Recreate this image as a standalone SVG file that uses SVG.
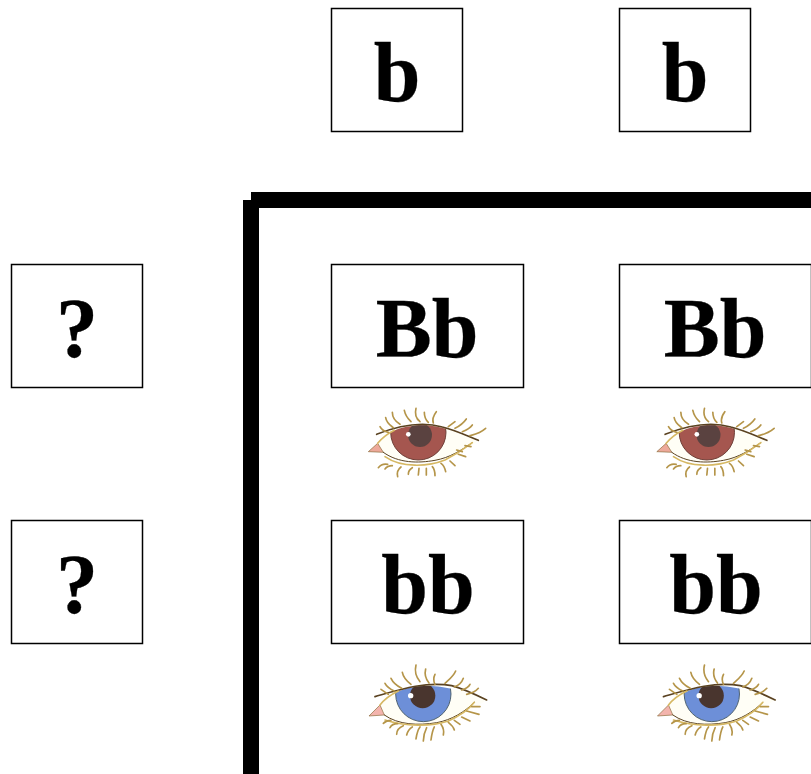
<svg xmlns="http://www.w3.org/2000/svg" width="811" height="774" viewBox="0 0 811 774">
  <style>
    .box { fill: #fff; stroke: #000; stroke-width: 1.5; }
    .label { font-family: "Liberation Serif", "Times New Roman", serif; font-weight: bold; font-size: 84px; text-anchor: middle; fill: #000; stroke: #000; stroke-width: .3; }
    .rule { fill: none; stroke: #000; stroke-width: 16; }
    .lash { fill: none; stroke: #b5954a; stroke-width: 5; stroke-linecap: round; }
    .lid { fill: none; stroke: #5a4220; stroke-width: 5; stroke-linecap: round; }
    .lidpale { fill: none; stroke: #d6b863; stroke-width: 5; stroke-linecap: round; }
  </style>
  <defs>
    <filter id="soft" x="-5%" y="-5%" width="110%" height="110%"><feGaussianBlur stdDeviation="1.2"/></filter>
    <clipPath id="brown-opening"><path d="M40 170 C60 150 85 125 110 110 C150 90 210 86 250 96 C290 104 330 118 370 138 C320 170 280 195 200 200 C150 202 110 190 85 172 Z"/></clipPath>
    <clipPath id="blue-opening"><path d="M42 183 C65 160 95 130 125 112 C165 92 220 90 260 96 C305 102 350 115 395 135 C340 170 290 205 200 207 C150 207 110 195 85 180 Z"/></clipPath>
    <g id="eye-brown" filter="url(#soft)">
      <path d="M40 170 C60 150 85 125 110 110 C150 90 210 86 250 96 C290 104 330 118 370 138 C320 170 280 195 200 200 C150 202 110 190 85 172 Z" fill="#fffef6"/>
      <g clip-path="url(#brown-opening)">
        <circle cx="190" cy="112" r="83" fill="#a5564f" stroke="#6e4038" stroke-width="3"/>
        <circle cx="195" cy="120" r="36" fill="#5a4340"/>
        <circle cx="160" cy="118" r="7" fill="#fff"/>
      </g>
      <path d="M40 170 L68 145 L85 172 Z" fill="#eda99a" stroke="#8a6a3a" stroke-width="2"/>
      <path d="M65 118 C130 92 200 78 262 96 C300 105 335 122 370 136" class="lid"/>
      <path d="M68 145 C85 125 100 115 118 106" class="lidpale"/>
      <path d="M85 172 C130 205 190 205 240 196 C285 188 320 165 352 143" class="lid" style="stroke-width:3"/>
      <path d="M90 185 C140 220 220 215 270 195 C300 180 330 160 352 143" class="lidpale"/>
      <path d="M75 95 C80 105 90 110 100 112 M92 68 C95 85 105 90 115 98 M112 52 C112 70 125 82 135 88 M148 46 C152 65 160 72 168 80 M183 40 C178 60 185 72 195 80 M208 52 C208 65 212 75 220 82 M244 50 C235 62 232 75 235 84 M300 80 L280 95 M334 72 C325 85 310 95 300 100 M352 90 C345 100 335 105 322 110 M392 100 C375 115 360 118 345 122" class="lash"/>
      <path d="M70 218 C78 208 88 206 98 208 M90 222 C95 215 105 212 112 212 M128 245 C125 232 130 222 138 216 M160 238 C160 228 165 222 172 218 M190 240 L192 220 M214 240 L214 220 M240 242 C240 232 238 222 232 215 M272 230 C270 220 265 210 258 205 M300 212 L285 198 M332 185 L310 178 M322 170 L305 165 M348 155 L330 152" class="lash"/>
    </g>
    <g id="eye-blue" filter="url(#soft)">
      <path d="M42 183 C65 160 95 130 125 112 C165 92 220 90 260 96 C305 102 350 115 395 135 C340 170 290 205 200 207 C150 207 110 195 85 180 Z" fill="#fffef6"/>
      <g clip-path="url(#blue-opening)">
        <circle cx="205" cy="117" r="83" fill="#6d8fd8" stroke="#4f6270" stroke-width="3"/>
        <circle cx="203" cy="122" r="38" fill="#4a342e"/>
        <circle cx="167" cy="122" r="8" fill="#fff"/>
      </g>
      <path d="M42 183 L75 150 L88 180 Z" fill="#f3b4ad" stroke="#8a6a3a" stroke-width="2"/>
      <path d="M60 125 C130 105 210 78 290 92 C320 100 360 118 395 135" class="lid"/>
      <path d="M75 150 C90 130 105 120 130 108" class="lidpale"/>
      <path d="M88 180 C130 210 190 212 245 203 C290 195 330 170 358 142" class="lid" style="stroke-width:3"/>
      <path d="M90 195 C150 215 230 215 280 198 C310 185 340 165 358 142" class="lidpale"/>
      <path d="M78 103 L100 118 M90 85 C95 95 105 102 118 108 M108 70 C115 85 125 92 140 100 M142 52 C145 68 155 78 168 88 M183 30 C178 50 185 68 195 80 M212 42 C208 58 212 72 222 84 M240 58 C235 68 235 78 240 88 M302 48 C295 65 280 75 270 85 M325 70 C320 85 310 90 298 96 M345 88 C340 98 330 102 320 105 M370 100 C360 112 350 115 335 118" class="lash"/>
      <path d="M85 205 C92 198 100 196 108 196 M105 218 C110 208 118 206 128 206 M125 238 C125 225 135 216 145 212 M155 240 C158 228 165 220 172 216 M183 252 C185 238 188 225 195 216 M205 258 C205 240 210 228 215 218 M228 255 C230 240 232 228 238 216 M265 240 C268 228 265 218 258 208 M298 225 C295 215 288 208 280 202 M315 208 L298 196 M345 198 L320 186 M372 178 L335 168 M375 155 L350 155" class="lash"/>
    </g>
  </defs>

  <g id="connectors">
    <path class="rule" d="M251 200 H811"/>
    <path class="rule" d="M251 200 V774"/>
  </g>

  <g id="top-b-1"><rect class="box" x="331.500" y="8.500" width="131" height="123"/><text class="label" x="397" y="101">b</text></g>
  <g id="top-b-2"><rect class="box" x="619.500" y="8.500" width="131" height="123"/><text class="label" x="685" y="101">b</text></g>
  <g id="left-q-1"><rect class="box" x="11.500" y="264.500" width="131" height="123"/><text class="label" x="77" y="357">?</text></g>
  <g id="left-q-2"><rect class="box" x="11.500" y="520.500" width="131" height="123"/><text class="label" x="77" y="613">?</text></g>
  <g id="cell-Bb-1"><rect class="box" x="331.500" y="264.500" width="192" height="123"/><text class="label" x="427" y="357">Bb</text></g>
  <g id="cell-Bb-2"><rect class="box" x="619.500" y="264.500" width="192" height="123"/><text class="label" x="715" y="357">Bb</text></g>
  <g id="cell-bb-1"><rect class="box" x="331.500" y="520.500" width="192" height="123"/><text class="label" x="428" y="613">bb</text></g>
  <g id="cell-bb-2"><rect class="box" x="619.500" y="520.500" width="192" height="123"/><text class="label" x="716" y="613">bb</text></g>

  <g id="eye-brown-1"><use href="#eye-brown" transform="translate(355,395) scale(.3333)"/></g>
  <g id="eye-brown-2"><use href="#eye-brown" transform="translate(643.500,395) scale(.3333)"/></g>
  <g id="eye-blue-1"><use href="#eye-blue" transform="translate(355,655) scale(.3333)"/></g>
  <g id="eye-blue-2"><use href="#eye-blue" transform="translate(643.500,655) scale(.3333)"/></g>
</svg>
